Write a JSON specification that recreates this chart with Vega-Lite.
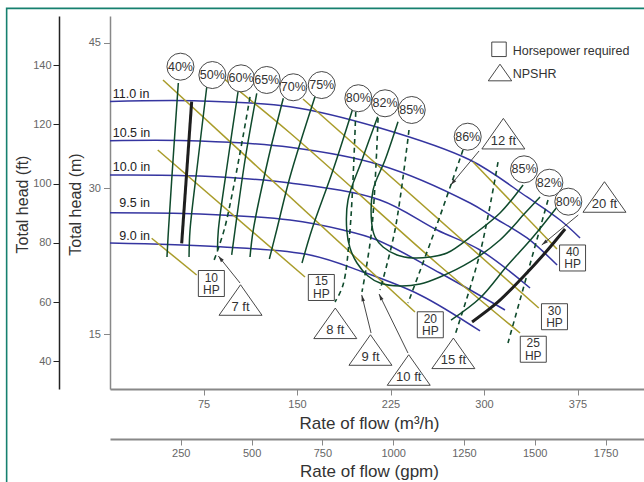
{
  "$schema": "https://vega.github.io/schema/vega-lite/v6.json",
  "width": 534,
  "height": 373,
  "autosize": {"type": "none"},
  "padding": {"left": 110, "top": 16, "right": 0, "bottom": 93},
  "background": "white",
  "config": {
    "view": {"stroke": null},
    "axis": {"grid": false, "labelFont": "Liberation Sans", "labelFontSize": 11, "labelColor": "#666", "titleFont": "Liberation Sans", "titleFontWeight": "normal", "titleColor": "#444", "tickColor": "#888", "domainColor": "#888"}
  },
  "datasets": {
    "imp": [
      {"n": "11.0", "q": 0, "h": 38.95}, {"n": "11.0", "q": 72.2, "h": 39.0}, {"n": "11.0", "q": 144.4, "h": 38.41}, {"n": "11.0", "q": 216.6, "h": 36.22}, {"n": "11.0", "q": 288.8, "h": 32.92}, {"n": "11.0", "q": 334.5, "h": 29.11}, {"n": "11.0", "q": 361.0, "h": 26.74}, {"n": "11.0", "q": 377.0, "h": 24.89},
      {"n": "10.5", "q": 0, "h": 34.91}, {"n": "10.5", "q": 72.2, "h": 34.88}, {"n": "10.5", "q": 144.4, "h": 34.23}, {"n": "10.5", "q": 216.6, "h": 32.41}, {"n": "10.5", "q": 288.8, "h": 28.49}, {"n": "10.5", "q": 307.2, "h": 27.05}, {"n": "10.5", "q": 334.5, "h": 24.89}, {"n": "10.5", "q": 358.6, "h": 22.11},
      {"n": "10.0", "q": 0, "h": 31.38}, {"n": "10.0", "q": 72.2, "h": 31.27}, {"n": "10.0", "q": 144.4, "h": 30.55}, {"n": "10.0", "q": 216.6, "h": 28.8}, {"n": "10.0", "q": 262.3, "h": 25.71}, {"n": "10.0", "q": 296.8, "h": 23.65}, {"n": "10.0", "q": 336.9, "h": 19.74},
      {"n": "9.5", "q": 0, "h": 27.49}, {"n": "9.5", "q": 72.2, "h": 27.36}, {"n": "9.5", "q": 144.4, "h": 26.74}, {"n": "9.5", "q": 186.9, "h": 25.71}, {"n": "9.5", "q": 214.2, "h": 24.68}, {"n": "9.5", "q": 264.7, "h": 21.28}, {"n": "9.5", "q": 316.8, "h": 17.47},
      {"n": "9.0", "q": 0, "h": 24.37}, {"n": "9.0", "q": 88.2, "h": 23.99}, {"n": "9.0", "q": 160.4, "h": 23.14}, {"n": "9.0", "q": 202.9, "h": 21.39}, {"n": "9.0", "q": 248.7, "h": 19.02}, {"n": "9.0", "q": 296.8, "h": 15.31}
    ],
    "hp": [
      {"n": "10", "q": 33.4, "h": 24.86}, {"n": "10", "q": 69.5, "h": 21.08},
      {"n": "15", "q": 38.3, "h": 33.95}, {"n": "15", "q": 156.4, "h": 20.87},
      {"n": "20", "q": 42.5, "h": 41.16}, {"n": "20", "q": 244.6, "h": 17.27},
      {"n": "25", "q": 90.6, "h": 41.37}, {"n": "25", "q": 144.4, "h": 35.7}, {"n": "25", "q": 264.7, "h": 22.0}, {"n": "25", "q": 328.9, "h": 15.1},
      {"n": "30", "q": 154.8, "h": 39.2}, {"n": "30", "q": 343.9, "h": 17.68},
      {"n": "40", "q": 291.2, "h": 32.71}, {"n": "40", "q": 358.5, "h": 23.75}
    ],
    "eff": [
      {"n": "40", "q": 54.8, "h": 40.85}, {"n": "40", "q": 51.1, "h": 33.95}, {"n": "40", "q": 46.9, "h": 25.71}, {"n": "40", "q": 45.7, "h": 22.93},
      {"n": "50", "q": 77.6, "h": 40.44}, {"n": "50", "q": 70.6, "h": 32.92}, {"n": "50", "q": 64.2, "h": 25.71}, {"n": "50", "q": 63.4, "h": 22.93},
      {"n": "60", "q": 102.9, "h": 40.13}, {"n": "60", "q": 94.6, "h": 32.92}, {"n": "60", "q": 86.9, "h": 25.71}, {"n": "60", "q": 86.2, "h": 23.65},
      {"n": "65", "q": 117.7, "h": 39.79}, {"n": "65", "q": 108.3, "h": 32.92}, {"n": "65", "q": 100.3, "h": 25.71}, {"n": "65", "q": 97.6, "h": 23.14},
      {"n": "70", "q": 139.0, "h": 39.28}, {"n": "70", "q": 126.7, "h": 32.92}, {"n": "70", "q": 114.9, "h": 25.71}, {"n": "70", "q": 112.3, "h": 22.93},
      {"n": "75", "q": 164.4, "h": 39.44}, {"n": "75", "q": 144.4, "h": 31.2}, {"n": "75", "q": 133.7, "h": 25.71}, {"n": "75", "q": 127.8, "h": 22.72},
      {"n": "80L", "q": 194.9, "h": 38.28}, {"n": "80L", "q": 178.9, "h": 31.89}, {"n": "80L", "q": 161.8, "h": 25.71}, {"n": "80L", "q": 154.0, "h": 22.31},
      {"n": "82", "q": 214.7, "h": 37.38}, {"n": "82", "q": 202.1, "h": 32.92}, {"n": "82", "q": 190.9, "h": 28.8}, {"n": "82", "q": 189.9, "h": 25.71}, {"n": "82", "q": 192.5, "h": 23.86}, {"n": "82", "q": 198.1, "h": 22.31}, {"n": "82", "q": 206.9, "h": 20.97}, {"n": "82", "q": 216.6, "h": 20.25}, {"n": "82", "q": 232.6, "h": 19.94}, {"n": "82", "q": 248.7, "h": 20.15}, {"n": "82", "q": 264.7, "h": 20.87}, {"n": "82", "q": 288.8, "h": 22.42}, {"n": "82", "q": 312.8, "h": 24.68}, {"n": "82", "q": 332.9, "h": 27.46}, {"n": "82", "q": 344.9, "h": 29.11},
      {"n": "85", "q": 231.0, "h": 36.87}, {"n": "85", "q": 220.6, "h": 32.92}, {"n": "85", "q": 211.0, "h": 29.83}, {"n": "85", "q": 209.9, "h": 26.43}, {"n": "85", "q": 212.6, "h": 24.99}, {"n": "85", "q": 219.0, "h": 23.96}, {"n": "85", "q": 230.2, "h": 23.14}, {"n": "85", "q": 243.0, "h": 22.83}, {"n": "85", "q": 256.7, "h": 22.93}, {"n": "85", "q": 270.3, "h": 23.34}, {"n": "85", "q": 291.2, "h": 25.2}, {"n": "85", "q": 312.8, "h": 27.46}, {"n": "85", "q": 331.3, "h": 30.35},
      {"n": "80R", "q": 273.5, "h": 16.44}, {"n": "80R", "q": 296.8, "h": 18.71}, {"n": "80R", "q": 318.4, "h": 22.0}, {"n": "80R", "q": 339.3, "h": 24.99}, {"n": "80R", "q": 358.6, "h": 28.08}
    ],
    "npsh": [
      {"n": "7", "q": 112.3, "h": 39.41}, {"n": "7", "q": 92.2, "h": 26.02}, {"n": "7", "q": 82.6, "h": 22.31},
      {"n": "8", "q": 197.1, "h": 37.86}, {"n": "8", "q": 192.5, "h": 25.71}, {"n": "8", "q": 186.9, "h": 20.05}, {"n": "8", "q": 180.5, "h": 18.3},
      {"n": "9", "q": 215.0, "h": 37.25}, {"n": "9", "q": 209.9, "h": 25.71}, {"n": "9", "q": 202.1, "h": 19.33},
      {"n": "10", "q": 239.8, "h": 36.01}, {"n": "10", "q": 228.6, "h": 25.71}, {"n": "10", "q": 216.6, "h": 19.53},
      {"n": "12", "q": 283.1, "h": 33.95}, {"n": "12", "q": 260.7, "h": 25.71}, {"n": "12", "q": 239.0, "h": 18.19},
      {"n": "15", "q": 311.2, "h": 32.71}, {"n": "15", "q": 296.8, "h": 23.34}, {"n": "15", "q": 276.7, "h": 14.9},
      {"n": "20", "q": 351.3, "h": 28.8}, {"n": "20", "q": 319.2, "h": 14.07}
    ],
    "limits": [
      {"n": "L", "q": 65.5, "h": 38.93}, {"n": "L", "q": 57.5, "h": 24.34},
      {"n": "R", "q": 365.0, "h": 25.81}, {"n": "R", "q": 348.9, "h": 23.34}, {"n": "R", "q": 330.5, "h": 20.77}, {"n": "R", "q": 311.2, "h": 18.3}, {"n": "R", "q": 290.4, "h": 16.24}
    ],
    "arrows": [
      {"n": "7", "q": 104.3, "h": 20.25}, {"n": "7", "q": 86.9, "h": 23.03},
      {"n": "9", "q": 209.4, "h": 15.1}, {"n": "9", "q": 201.9, "h": 19.02},
      {"n": "10", "q": 239.0, "h": 13.04}, {"n": "10", "q": 215.8, "h": 19.12},
      {"n": "12", "q": 296.0, "h": 33.85}, {"n": "12", "q": 273.3, "h": 30.35},
      {"n": "20", "q": 375.6, "h": 27.26}, {"n": "20", "q": 346.3, "h": 24.17}
    ],
    "heads": [
      {"n": "7", "q": 86.9, "h": 23.03},
      {"n": "9", "q": 201.9, "h": 19.02},
      {"n": "10", "q": 215.8, "h": 19.12},
      {"n": "12", "q": 273.3, "h": 30.35},
      {"n": "20", "q": 346.3, "h": 24.17}
    ],
    "circles": [
      {"label": "40%", "q": 56.5, "h": 42.53}, {"label": "50%", "q": 82.1, "h": 41.67}, {"label": "60%", "q": 105.1, "h": 41.33}, {"label": "65%", "q": 125.7, "h": 41.16}, {"label": "70%", "q": 147.0, "h": 40.41}, {"label": "75%", "q": 169.8, "h": 40.64}, {"label": "80%", "q": 199.2, "h": 39.28}, {"label": "82%", "q": 220.6, "h": 38.76}, {"label": "85%", "q": 242.0, "h": 38.07}, {"label": "86%", "q": 286.9, "h": 35.32}, {"label": "85%", "q": 332.1, "h": 31.96}, {"label": "82%", "q": 352.4, "h": 30.58}, {"label": "80%", "q": 367.6, "h": 28.63}
    ],
    "tris": [
      {"label": "7 ft", "q": 104.7, "h": 18.5}, {"label": "8 ft", "q": 180.7, "h": 16.1}, {"label": "9 ft", "q": 208.9, "h": 13.35}, {"label": "10 ft", "q": 239.6, "h": 11.29}, {"label": "15 ft", "q": 275.4, "h": 13.01}, {"label": "12 ft", "q": 315.5, "h": 35.63}, {"label": "20 ft", "q": 396.6, "h": 29.11}
    ],
    "boxes": [
      {"num": "10", "unit": "HP", "q": 81.3, "h": 20.2}, {"num": "15", "unit": "HP", "q": 169.5, "h": 19.79}, {"num": "20", "unit": "HP", "q": 256.9, "h": 15.95}, {"num": "25", "unit": "HP", "q": 339.5, "h": 13.43}, {"num": "30", "unit": "HP", "q": 356.5, "h": 16.78}, {"num": "40", "unit": "HP", "q": 371.0, "h": 22.83}
    ],
    "implab": [
      {"label": "11.0 in", "q": 2.2, "h": 39.67}, {"label": "10.5 in", "q": 2.2, "h": 35.67}, {"label": "10.0 in", "q": 2.2, "h": 32.2}, {"label": "9.5 in", "q": 7.5, "h": 28.49}, {"label": "9.0 in", "q": 7.5, "h": 25.07}
    ],
    "legtext": [
      {"label": "Horsepower required", "q": 323.0, "h": 44.17}, {"label": "NPSHR", "q": 323.0, "h": 41.76}
    ],
    "frame": [
      {"q": 430, "h": 48.54}, {"q": -82.9, "h": 48.54}, {"q": -82.9, "h": -1}
    ]
  },
  "layer": [
    {
      "encoding": {
        "x": {"field": "q", "type": "quantitative", "scale": {"domain": [0, 428.3], "nice": false, "zero": false},
          "axis": {"orient": "bottom", "title": "Rate of flow (m³/h)", "values": [75, 150, 225, 300, 375], "tickSize": 6, "labelPadding": 3, "domainWidth": 2, "titleFontSize": 17, "titleX": 259, "titleY": 39, "titleBaseline": "alphabetic", "titleAlign": "center", "titleColor": "#333"}},
        "y": {"field": "h", "type": "quantitative", "scale": {"domain": [9.336, 47.75], "nice": false, "zero": false},
          "axis": {"orient": "left", "title": "Total head (m)", "values": [15, 30, 45], "tickSize": 6.5, "labelPadding": 3, "domainWidth": 1.5, "titleFontSize": 16, "titleX": -30, "titleY": 188, "titleBaseline": "alphabetic", "titleAlign": "center", "titleColor": "#333"}}
      },
      "layer": [
        {"data": {"name": "frame"}, "mark": {"type": "line", "color": "#16806f", "strokeWidth": 1.6, "clip": false}, "encoding": {"order": {"value": null}}},
        {"data": {"name": "imp"}, "mark": {"type": "line", "color": "#3535a0", "strokeWidth": 1.5, "interpolate": "catmull-rom"}, "encoding": {"detail": {"field": "n"}, "order": {"value": null}}},
        {"data": {"name": "hp"}, "mark": {"type": "line", "color": "#a99c2a", "strokeWidth": 1.5, "interpolate": "catmull-rom"}, "encoding": {"detail": {"field": "n"}, "order": {"value": null}}},
        {"data": {"name": "eff"}, "mark": {"type": "line", "color": "#0f4a2c", "strokeWidth": 1.5, "interpolate": "catmull-rom"}, "encoding": {"detail": {"field": "n"}, "order": {"value": null}}},
        {"data": {"name": "npsh"}, "mark": {"type": "line", "color": "#0f4a2c", "strokeWidth": 1.6, "strokeDash": [5, 4], "interpolate": "catmull-rom"}, "encoding": {"detail": {"field": "n"}, "order": {"value": null}}},
        {"data": {"name": "limits"}, "mark": {"type": "line", "color": "#1e1e1e", "strokeWidth": 3, "interpolate": "catmull-rom"}, "encoding": {"detail": {"field": "n"}, "order": {"value": null}}},
        {"data": {"name": "arrows"}, "mark": {"type": "line", "color": "#333", "strokeWidth": 0.9}, "encoding": {"detail": {"field": "n"}, "order": {"value": null}}},
        {"data": {"name": "heads"}, "transform": [{"filter": "datum.n == '7'"}], "mark": {"type": "point", "shape": "M0,0L-0.45,1.6L0.45,1.6Z", "size": 64, "filled": true, "color": "#333", "opacity": 1, "angle": 321}},
        {"data": {"name": "heads"}, "transform": [{"filter": "datum.n == '9'"}], "mark": {"type": "point", "shape": "M0,0L-0.45,1.6L0.45,1.6Z", "size": 64, "filled": true, "color": "#333", "opacity": 1, "angle": 346}},
        {"data": {"name": "heads"}, "transform": [{"filter": "datum.n == '10'"}], "mark": {"type": "point", "shape": "M0,0L-0.45,1.6L0.45,1.6Z", "size": 64, "filled": true, "color": "#333", "opacity": 1, "angle": 334}},
        {"data": {"name": "heads"}, "transform": [{"filter": "datum.n == '12'"}], "mark": {"type": "point", "shape": "M0,0L-0.45,1.6L0.45,1.6Z", "size": 64, "filled": true, "color": "#333", "opacity": 1, "angle": 220}},
        {"data": {"name": "heads"}, "transform": [{"filter": "datum.n == '20'"}], "mark": {"type": "point", "shape": "M0,0L-0.45,1.6L0.45,1.6Z", "size": 64, "filled": true, "color": "#333", "opacity": 1, "angle": 231}},
        {"data": {"name": "circles"}, "mark": {"type": "point", "shape": "circle", "size": 729, "filled": true, "fill": "white", "stroke": "#333", "strokeWidth": 0.9, "opacity": 1}},
        {"data": {"name": "circles"}, "mark": {"type": "text", "font": "Liberation Sans, Arial, sans-serif", "fontSize": 12.5, "color": "#333", "align": "center", "baseline": "middle"}, "encoding": {"text": {"field": "label"}}},
        {"data": {"name": "tris"}, "mark": {"type": "point", "shape": "M0,-0.71L1,0.71L-1,0.71Z", "size": 1849, "filled": true, "fill": "white", "stroke": "#333", "strokeWidth": 0.9, "opacity": 1}},
        {"data": {"name": "tris"}, "mark": {"type": "text", "font": "Liberation Sans, Arial, sans-serif", "fontSize": 13, "color": "#333", "align": "center", "baseline": "middle", "dy": 7}, "encoding": {"text": {"field": "label"}}},
        {"data": {"name": "boxes"}, "mark": {"type": "point", "shape": "square", "size": 676, "filled": true, "fill": "white", "stroke": "#333", "strokeWidth": 0.9, "opacity": 1}},
        {"data": {"name": "boxes"}, "mark": {"type": "text", "font": "Liberation Sans, Arial, sans-serif", "fontSize": 12, "color": "#333", "align": "center", "baseline": "middle", "dy": -6}, "encoding": {"text": {"field": "num"}}},
        {"data": {"name": "boxes"}, "mark": {"type": "text", "font": "Liberation Sans, Arial, sans-serif", "fontSize": 12, "color": "#333", "align": "center", "baseline": "middle", "dy": 6.5}, "encoding": {"text": {"field": "unit"}}},
        {"data": {"name": "implab"}, "mark": {"type": "text", "font": "Liberation Sans, Arial, sans-serif", "fontSize": 12.5, "color": "#222", "align": "left", "baseline": "middle"}, "encoding": {"text": {"field": "label"}}},
        {"data": {"values": [{"q": 312.0, "h": 44.32}]}, "mark": {"type": "point", "shape": "square", "size": 210, "filled": true, "fill": "white", "stroke": "#333", "strokeWidth": 0.9, "opacity": 1}},
        {"data": {"values": [{"q": 312.8, "h": 41.93}]}, "mark": {"type": "point", "shape": "M0,-0.71L1,0.71L-1,0.71Z", "size": 548, "filled": true, "fill": "white", "stroke": "#333", "strokeWidth": 0.9, "opacity": 1}},
        {"data": {"name": "legtext"}, "mark": {"type": "text", "font": "Liberation Sans, Arial, sans-serif", "fontSize": 12.5, "color": "#333", "align": "left", "baseline": "middle"}, "encoding": {"text": {"field": "label"}}}
      ]
    },
    {
      "data": {"values": [{"ft": 40}]},
      "mark": {"type": "point", "opacity": 0},
      "encoding": {
        "y": {"field": "ft", "type": "quantitative", "scale": {"domain": [30.63, 156.66], "nice": false, "zero": false},
          "axis": {"orient": "left", "offset": 51, "title": "Total head (ft)", "values": [40, 60, 80, 100, 120, 140], "tickSize": 6, "labelPadding": 2, "domainColor": "#222", "tickColor": "#222", "domainWidth": 1.5, "titleFontSize": 16, "titleX": -32, "titleY": 188, "titleBaseline": "alphabetic", "titleAlign": "center", "titleColor": "#333"}}
      }
    },
    {
      "data": {"values": [{"gpm": 250}]},
      "mark": {"type": "point", "opacity": 0},
      "encoding": {
        "x": {"field": "gpm", "type": "quantitative", "scale": {"domain": [0, 1885.9], "nice": false, "zero": false},
          "axis": {"orient": "bottom", "offset": 50, "title": "Rate of flow (gpm)", "format": "d", "values": [250, 500, 750, 1000, 1250, 1500, 1750], "tickSize": 6, "labelPadding": 2, "domainWidth": 2, "titleFontSize": 17, "titleX": 259, "titleY": 37, "titleBaseline": "alphabetic", "titleAlign": "center", "titleColor": "#333"}}
      }
    }
  ],
  "resolve": {"scale": {"x": "independent", "y": "independent"}}
}
